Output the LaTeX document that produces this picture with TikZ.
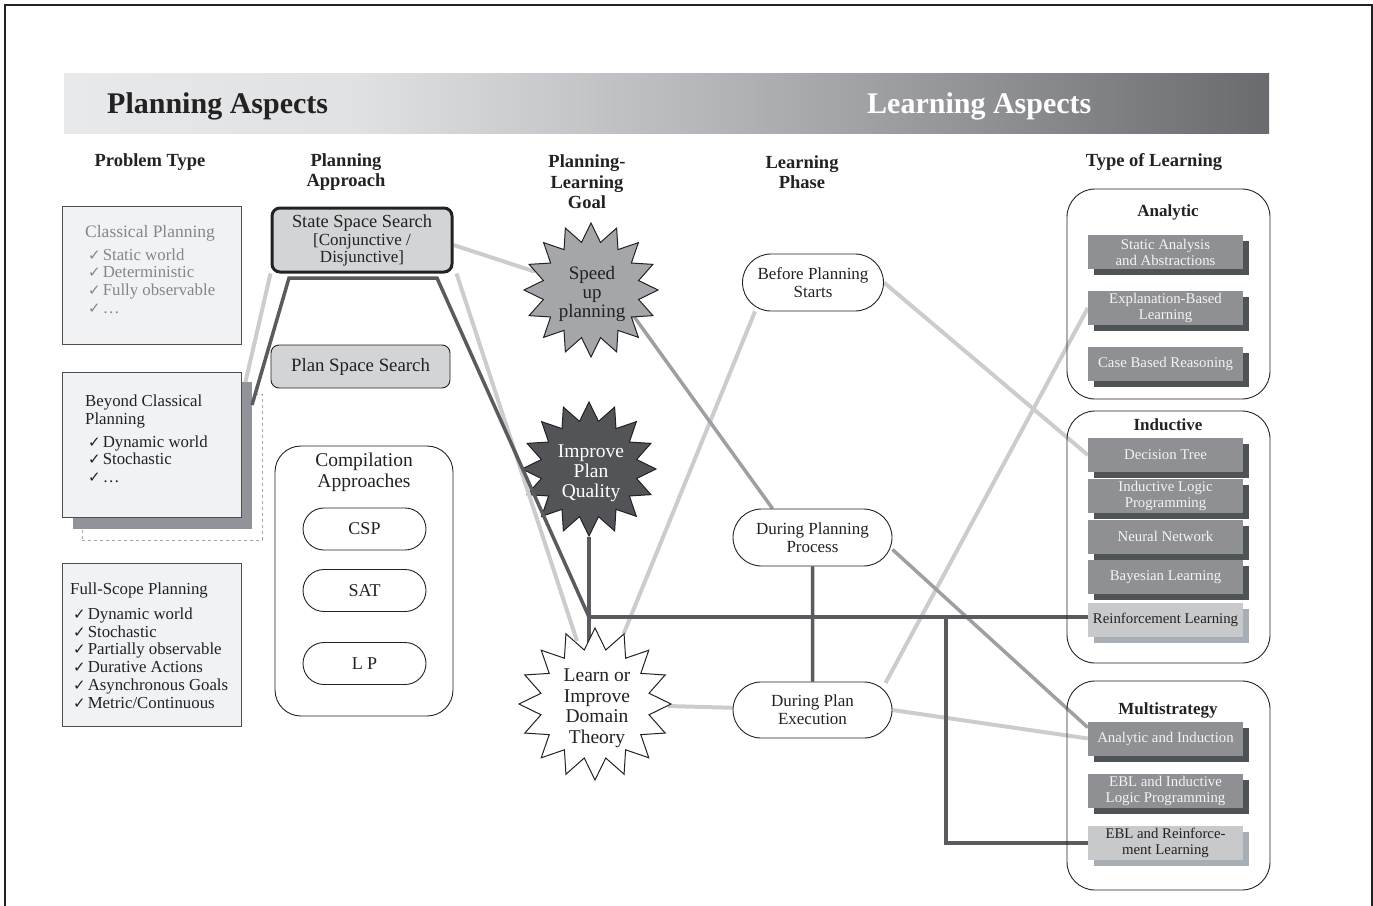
\documentclass[tikz,border=0pt]{standalone}
\usepackage{fontspec}
\setmainfont{Liberation Serif}
\newfontfamily\symfont{DejaVu Sans}
\usetikzlibrary{shapes.geometric,shapes.misc,shadows,backgrounds}

\definecolor{hA}{HTML}{E8E9EB}
\definecolor{hB}{HTML}{E0E1E3}
\definecolor{hC}{HTML}{B4B5B8}
\definecolor{hD}{HTML}{6A6B6F}
\pgfdeclarehorizontalshading{hdrshade}{100bp}{color(0bp)=(hA); color(25bp)=(hA); color(37bp)=(hB); color(52bp)=(hC); color(75bp)=(hD); color(100bp)=(hD)}

\definecolor{txt}{HTML}{222222}
\definecolor{graytxt}{HTML}{858689}
\definecolor{ptfill}{HTML}{F1F2F4}
\definecolor{ptborder}{HTML}{4D4D4F}
\definecolor{bcshadow}{HTML}{909398}
\definecolor{dashcol}{HTML}{A5A5A5}
\definecolor{ssfill}{HTML}{D3D4D6}
\definecolor{sufill}{HTML}{A5A6A9}
\definecolor{ipqfill}{HTML}{535457}
\definecolor{boxfill}{HTML}{8F9094}
\definecolor{boxsh}{HTML}{4E5356}
\definecolor{lboxfill}{HTML}{C8C9CB}
\definecolor{lboxsh}{HTML}{A8AEB6}
\definecolor{lcol}{HTML}{CBCCCE}
\definecolor{mcol}{HTML}{9E9FA2}
\definecolor{dcol}{HTML}{5A5B5E}
\definecolor{boxtxt}{HTML}{F4F4F4}

\newcommand\ck{{\symfont\fontsize{15}{15}\selectfont ✓}\hspace{2pt}}

\tikzset{
  colhead/.style={font=\fontsize{18.5}{20.5}\selectfont\bfseries, text=txt, align=center, inner sep=0pt},
  ptbox/.style={rectangle, draw=ptborder, line width=1pt, fill=ptfill, inner sep=0pt},
  listtxt/.style={anchor=north west, align=left, inner sep=0pt, font=\fontsize{16.8}{17.7}\selectfont},
  stadium/.style={rounded rectangle, draw=txt, line width=0.9pt, fill=white, align=center, inner sep=0pt, font=\fontsize{17}{18}\selectfont, text=txt},
  container/.style={rectangle, rounded corners=28pt, draw=txt, line width=0.9pt, inner sep=0pt},
  goalstar/.style={star, star points=16, star point ratio=1.38, draw=txt, line width=1pt, inner sep=0pt},
  startxt/.style={align=center, inner sep=0pt, font=\fontsize{19.5}{20}\selectfont},
  ltbox/.style={rectangle, fill=boxfill, text=boxtxt, minimum width=155pt, minimum height=34pt, inner sep=0pt, align=center, font=\fontsize{14.8}{16}\selectfont, drop shadow={shadow xshift=6pt, shadow yshift=-6pt, fill=boxsh, opacity=1}},
  ltlight/.style={ltbox, fill=lboxfill, text=txt, drop shadow={shadow xshift=6pt, shadow yshift=-6pt, fill=lboxsh, opacity=1}},
  ctitle/.style={font=\fontsize{17}{18}\selectfont\bfseries, text=txt, inner sep=0pt},
  lnlight/.style={draw=lcol, line width=4pt},
  lnmed/.style={draw=mcol, line width=3.5pt},
  lndark/.style={draw=dcol, line width=3.5pt},
}

\begin{document}
\begin{tikzpicture}[x=1pt,y=-1pt]
\useasboundingbox (0,0) rectangle (1373,905);

% frame
\coordinate (f1) at (5,906);
\coordinate (f2) at (5,5);
\coordinate (f3) at (1372,5);
\coordinate (f4) at (1372,906);
\draw[draw=txt, line width=1.2pt] (f1) -- (f2) -- (f3) -- (f4);

% header bar
\node[rectangle, shading=hdrshade, minimum width=1205pt, minimum height=60pt, inner sep=0pt] (HB) at (666.5,103) {};
\node[anchor=west, font=\fontsize{30}{32}\selectfont\bfseries, text=txt, inner sep=0pt] (PA) at (107,106) {Planning Aspects};
\node[anchor=west, font=\fontsize{30}{32}\selectfont\bfseries, text=white, inner sep=0pt] (LA) at (867,106) {Learning Aspects};

% column headers
\node[colhead] (PT) at (150,162) {Problem Type};
\node[colhead] (PAp) at (346,172) {Planning\\Approach};
\node[colhead] (PLG) at (587,182) {Planning-\\Learning\\Goal};
\node[colhead] (LPh) at (802,172) {Learning\\Phase};
\node[colhead] (TL) at (1154,162) {Type of Learning};

% problem types
\node[ptbox, minimum width=179pt, minimum height=138pt] (CP) at (151.5,275) {};
\node[listtxt, text=graytxt] (CPt) at (85,225) {{\fontsize{17.5}{18}\selectfont Classical Planning}\\[5pt]\hspace{3pt}\ck Static world\\\hspace{3pt}\ck Deterministic\\\hspace{3pt}\ck Fully observable\\\hspace{3pt}\ck …};

\node[rectangle, draw=dashcol, dashed, line width=0.8pt, minimum width=180pt, minimum height=146pt, inner sep=0pt] (BCd) at (172,467) {};
\node[rectangle, fill=bcshadow, minimum width=179pt, minimum height=147pt, inner sep=0pt] (BCs) at (162.5,455.5) {};
\node[ptbox, minimum width=179pt, minimum height=145pt] (BC) at (151.5,444.5) {};
\node[listtxt, text=txt] (BCt) at (85,395) {Beyond Classical\\Planning\\[5pt]\hspace{3pt}\ck Dynamic world\\\hspace{3pt}\ck Stochastic\\\hspace{3pt}\ck …};

\node[ptbox, minimum width=179pt, minimum height=163pt] (FS) at (151.5,644.5) {};
\node[listtxt, text=txt] (FSt) at (70,583) {Full-Scope Planning\\[7pt]\hspace{3pt}\ck Dynamic world\\\hspace{3pt}\ck Stochastic\\\hspace{3pt}\ck Partially observable\\\hspace{3pt}\ck Durative Actions\\\hspace{3pt}\ck Asynchronous Goals\\\hspace{3pt}\ck Metric/Continuous};

% planning approaches
\node[rectangle, rounded corners=8pt, draw=txt, line width=3pt, fill=ssfill, minimum width=180pt, minimum height=64pt, inner sep=0pt, align=center, text=txt, font=\fontsize{17}{17}\selectfont] (SSS) at (362,240) {{\fontsize{18.4}{19}\selectfont State Space Search}\\[1pt][Conjunctive /\\Disjunctive]};
\node[rectangle, rounded corners=8pt, draw=txt, line width=0.9pt, fill=ssfill, minimum width=179pt, minimum height=43pt, inner sep=0pt, text=txt, font=\fontsize{18.8}{19}\selectfont] (PSS) at (360.5,366.5) {Plan Space Search};
\node[container, rounded corners=26pt, minimum width=178pt, minimum height=270pt] (CA) at (364,581) {};
\node[startxt, text=txt, font=\fontsize{19.5}{21}\selectfont] (CAt) at (364,472) {Compilation\\Approaches};
\node[stadium, minimum width=123pt, minimum height=42pt, font=\fontsize{18}{19}\selectfont] (CSP) at (364.5,529) {CSP};
\node[stadium, minimum width=123pt, minimum height=42pt, font=\fontsize{18}{19}\selectfont] (SAT) at (364.5,590.5) {SAT};
\node[stadium, minimum width=123pt, minimum height=42pt, font=\fontsize{18}{19}\selectfont] (LPn) at (364.5,663.5) {L P};

% goals
\node[goalstar, fill=sufill, minimum size=134pt] (SU) at (591,290) {};
\node[startxt, text=txt, font=\fontsize{19}{19}\selectfont] (SUt) at (592,294) {Speed\\up\\planning};
\node[goalstar, fill=ipqfill, minimum size=134pt] (IPQ) at (589,469) {};
\node[startxt, text=white] (IPQt) at (591,473) {Improve\\Plan\\Quality};
\node[goalstar, fill=white, minimum size=152pt] (LI) at (595,704) {};
\node[startxt, text=txt, font=\fontsize{19.5}{20.5}\selectfont] (LIt) at (597,708) {Learn or\\Improve\\Domain\\Theory};

% learning phase
\node[stadium, minimum width=141pt, minimum height=57pt] (BPS) at (813,282.5) {Before Planning\\Starts};
\node[stadium, minimum width=159pt, minimum height=57pt] (DPP) at (812.5,537.5) {During Planning\\Process};
\node[stadium, minimum width=159pt, minimum height=56pt] (DPE) at (812.5,710) {During Plan\\Execution};

% type of learning
\node[container, minimum width=203pt, minimum height=210pt] (AN) at (1168.5,294) {};
\node[ctitle] (ANt) at (1168,212) {Analytic};
\node[ltbox] (SAA) at (1165.5,252) {Static Analysis\\and Abstractions};
\node[ltbox] (EBL) at (1165.5,308) {Explanation-Based\\Learning};
\node[ltbox] (CBR) at (1165.5,364) {Case Based Reasoning};

\node[container, minimum width=203pt, minimum height=252pt] (IN) at (1168.5,537) {};
\node[ctitle] (INt) at (1168,425) {Inductive};
\node[ltbox] (DT) at (1165.5,455) {Decision Tree};
\node[ltbox] (ILP) at (1165.5,496) {Inductive Logic\\Programming};
\node[ltbox] (NN) at (1165.5,536.5) {Neural Network};
\node[ltbox] (BL) at (1165.5,577) {Bayesian Learning};
\node[ltlight] (RL) at (1165.5,619.5) {Reinforcement Learning};

\node[container, minimum width=203pt, minimum height=209pt] (MS) at (1168.5,785.5) {};
\node[ctitle] (MSt) at (1168,710) {Multistrategy};
\node[ltbox] (AI) at (1165.5,738.5) {Analytic and Induction};
\node[ltbox] (EILP) at (1165.5,791) {EBL and Inductive\\Logic Programming};
\node[ltlight] (EBR) at (1165.5,843) {EBL and Reinforce-\\ment Learning};

% helper coordinates
\coordinate (J) at (589,617);
\coordinate (K) at (946,617);
\coordinate (bcA) at (245,384);
\coordinate (bcB) at (252,405);
\coordinate (sL) at (289,278);
\coordinate (sR) at (437,278);
\coordinate (liT) at (577,641);

% connectors behind nodes
\begin{pgfonlayer}{background}
\draw[lnlight] (SSS.south west) -- (bcA);
\draw[lnlight] ([yshift=-5pt]SSS.east) -- (SU);
\draw[lnlight] (BPS.east) -- (DT.west);
\draw[lnlight] ([xshift=-58pt]BPS.south) -- (LI);
\draw[lnlight] (LI) -- (DPE);
\draw[lnlight] ([xshift=73pt,yshift=27pt]DPE.center) -- (EBL.west);
\draw[lnlight] (DPE.east) -- (AI.west);
\draw[lnmed] ([yshift=33pt]SU.center) -- ([xshift=-40pt]DPP.north);
\draw[lnmed] ([yshift=-12pt]DPP.east) -- ([yshift=11pt]AI.west);
\draw[lndark] (IPQ.south) -- (J) -- (J |- LI.center);
\draw[lndark] (J) -- (J -| RL.west);
\draw[lndark] (K) -- (K |- EBR.west) -- (EBR.west);
\draw[lndark] (DPP) -- (DPE);
\end{pgfonlayer}

% connectors on top
\draw[lnlight] ([xshift=3pt]SSS.south east) -- (liT);
\draw[lndark, line join=miter] (bcB) -- (sL) -- (sR) -- (J);

\end{tikzpicture}
\end{document}
